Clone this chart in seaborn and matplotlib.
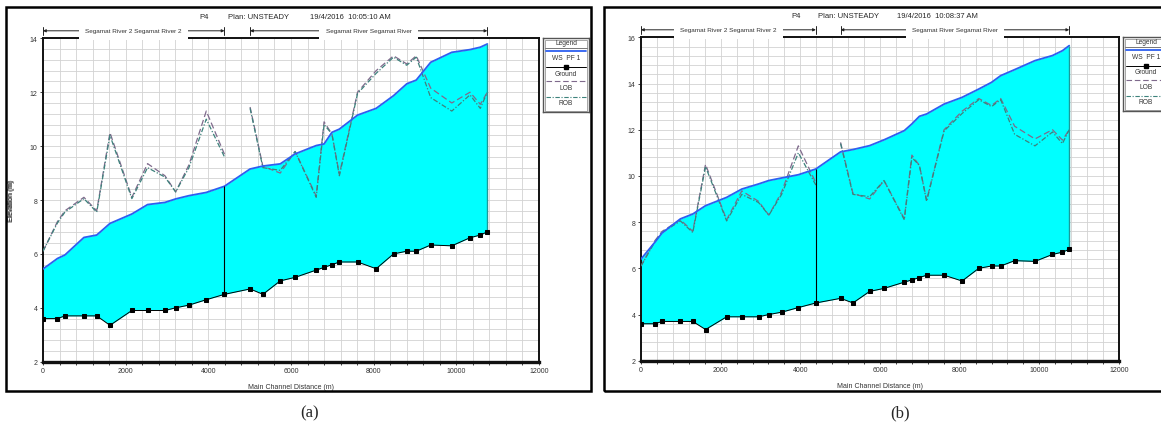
import numpy as np
import pandas as pd
import matplotlib
matplotlib.use("Agg")
import matplotlib.pyplot as plt
import seaborn as sns
from matplotlib.ticker import MultipleLocator
from matplotlib.patches import Rectangle

# stations along main channel (m)
station = [0, 350, 530, 990, 1300, 1620, 2150, 2530, 2950, 3210, 3530, 3950, 4390,
           5010, 5320, 5740, 6100, 6610, 6800, 6990, 7170, 7610, 8060, 8480, 8800,
           9030, 9380, 9890, 10330, 10580, 10750]
reach = ["Segamat River 2"] * 13 + ["Segamat River"] * 18

ground = [3.6, 3.6, 3.7, 3.7, 3.7, 3.35, 3.9, 3.9, 3.9, 4.0, 4.1, 4.3, 4.5,
          4.7, 4.5, 5.0, 5.13, 5.4, 5.5, 5.6, 5.7, 5.7, 5.45, 6.0, 6.1,
          6.1, 6.33, 6.3, 6.6, 6.7, 6.82]
lob = [6.1, 7.2, 7.6, 8.1, 7.6, 10.5, 8.1, 9.35, 8.9, 8.3, 9.3, 11.3, 9.7,
       11.45, 9.25, 9.0, 9.8, 8.15, 10.9, 10.45, 8.95, 12.0, 12.8, 13.35, 13.05,
       13.35, 12.15, 11.6, 12.0, 11.55, 12.0]
rob = [6.1, 7.15, 7.55, 8.05, 7.55, 10.4, 8.05, 9.2, 8.85, 8.3, 9.2, 11.0, 9.6,
       11.4, 9.2, 9.1, 9.8, 8.1, 10.8, 10.45, 8.9, 11.95, 12.7, 13.3, 13.0,
       13.3, 11.8, 11.3, 11.9, 11.4, 12.0]

# water surface, two runs
ws_a = [5.44, 5.83, 5.96, 6.61, 6.70, 7.13, 7.48, 7.83, 7.91, 8.04, 8.16, 8.28, 8.51,
        9.15, 9.26, 9.34, 9.71, 10.02, 10.08, 10.51, 10.63, 11.15, 11.40, 11.87, 12.31,
        12.45, 13.11, 13.48, 13.58, 13.67, 13.79]
ws_b = [6.40, 7.13, 7.53, 8.14, 8.35, 8.71, 9.07, 9.43, 9.65, 9.80, 9.91, 10.05, 10.30,
        11.04, 11.14, 11.31, 11.56, 11.96, 12.25, 12.58, 12.68, 13.11, 13.40, 13.76, 14.05,
        14.34, 14.60, 14.99, 15.21, 15.42, 15.64]

run_times = ["19/4/2016  10:05:10 AM", "19/4/2016  10:08:37 AM"]
y_tops = [14, 16]
captions = ["(a)", "(b)"]
legend_labels = ["WS  PF 1", "Ground", "LOB", "ROB"]

sns.set_style("white")
plt.rcParams["font.family"] = ["Liberation Sans", "DejaVu Sans"]

W, H = 1161, 427
fig = plt.figure(figsize=(W / 100, H / 100), dpi=100)

WS_COL = "#2d5ff0"
FILL_COL = "#00ffff"
LOB_COL = "#7f6a8c"
ROB_COL = "#3d827c"
TXT_COL = "#333333"


def px_rect(x0, y0, x1, y1):
    return [x0 / W, (H - y1) / H, (x1 - x0) / W, (y1 - y0) / H]


def draw_panel(ax_box, leg_box, frame_box, cap_x, ws, ytop, run_time, caption):
    df = pd.DataFrame({"station": station, "reach": reach, "ground": ground,
                       "ws": ws, "lob": lob, "rob": rob})
    ax = fig.add_axes(px_rect(*ax_box))
    ax.set_axisbelow(True)

    ax.fill_between(df["station"], df["ground"], df["ws"], color=FILL_COL, lw=0, zorder=1)
    sns.lineplot(data=df, x="station", y="lob", units="reach", estimator=None, ax=ax,
                 color=LOB_COL, lw=0.9, linestyle=(0, (5, 2.5)), zorder=3, legend=False)
    sns.lineplot(data=df, x="station", y="rob", units="reach", estimator=None, ax=ax,
                 color=ROB_COL, lw=0.9, linestyle=(0, (4, 1.5, 1, 1.5)), zorder=3, legend=False)
    sns.lineplot(data=df, x="station", y="ws", ax=ax, color=WS_COL, lw=1.3, zorder=4,
                 legend=False)
    sns.lineplot(data=df, x="station", y="ground", ax=ax, color="black", lw=0.7,
                 marker="s", markersize=2.4, markeredgecolor="black", zorder=5, legend=False)

    # junction line and downstream edge
    r2 = df[df["reach"] == "Segamat River 2"]
    j = r2.index[-1]
    ax.vlines(df["station"][j], df["ground"][j], df["ws"][j], color="black", lw=0.8, zorder=4)
    last = df.index[-1]
    ax.vlines(df["station"][last], df["ground"][last], df["ws"][last], color="#1a9a9a",
              lw=1.0, zorder=4)

    ax.set_xlim(0, 12000)
    ax.set_ylim(2, ytop)
    ax.set_xticks(np.arange(0, 12001, 2000))
    ax.set_yticks(np.arange(2, ytop + 0.1, 2))
    ax.xaxis.set_minor_locator(MultipleLocator(400))
    ax.yaxis.set_minor_locator(MultipleLocator(0.4))
    ax.grid(which="both", color="#d2d2d2", lw=0.6)
    ax.tick_params(which="both", direction="out", length=2, width=0.6, pad=2,
                   labelsize=5, labelcolor=TXT_COL, color="#222222",
                   bottom=True, left=True)
    ax.tick_params(axis="y", which="minor", length=0)
    for side in ["top", "right", "left"]:
        ax.spines[side].set_linewidth(1.4)
        ax.spines[side].set_color("#111111")
    ax.spines["bottom"].set_linewidth(2.4)
    ax.spines["bottom"].set_color("#111111")

    ax.set_xlabel("Main Channel Distance (m)", fontsize=5, color=TXT_COL)
    ax.set_ylabel("Elevation (m)", fontsize=5, color=TXT_COL)
    axw = ax_box[2] - ax_box[0]
    axh = ax_box[3] - ax_box[1]
    ax.xaxis.set_label_coords(0.5, -21 / axh)
    ax.yaxis.set_label_coords(-(ax_box[0] - 15) / axw, 0.5)

    # title row
    ty = 1 + 22 / axh
    ax.text(0.325, ty, "P4", transform=ax.transAxes, ha="center", va="center", fontsize=5.5)
    ax.text(0.435, ty, "Plan: UNSTEADY", transform=ax.transAxes, ha="center", va="center",
            fontsize=5.5)
    ax.text(0.62, ty, run_time, transform=ax.transAxes, ha="center", va="center", fontsize=5.5)

    # reach extents
    tr = ax.get_xaxis_transform()
    ry = 1 + 7.5 / axh
    for name, grp in df.groupby("reach", sort=False):
        a, b = grp["station"].min(), grp["station"].max()
        ax.annotate("", xy=(a, ry), xytext=(b, ry), xycoords=tr, textcoords=tr,
                    arrowprops=dict(arrowstyle="<|-|>", lw=0.7, color="#222222",
                                    mutation_scale=4, shrinkA=0, shrinkB=0))
        for s in (a, b):
            ax.plot([s, s], [ry - 0.012, ry + 0.012], transform=tr, color="#222222",
                    lw=0.7, clip_on=False)
        ax.text((a + b) / 2, ry, name + " " + name, transform=tr, ha="center", va="center",
                fontsize=4.6, color=TXT_COL,
                bbox=dict(facecolor="white", edgecolor="none", pad=4.5))

    # legend box
    lg = fig.add_axes(px_rect(*leg_box))
    lg.set_xlim(0, 1)
    lg.set_ylim(74, 0)
    lg.set_xticks([])
    lg.set_yticks([])
    for sp in lg.spines.values():
        sp.set_color("#555555")
        sp.set_linewidth(1.0)
    lg.add_patch(Rectangle((0.04, 1.5), 0.92, 71, fill=False, ec="#999999", lw=0.6))
    lg.text(0.5, 4.8, "Legend", ha="center", va="center", fontsize=4.8, color=TXT_COL)
    lg.plot([0.04, 0.96], [9.5, 9.5], color="#777777", lw=0.7)
    lg.plot([0.06, 0.94], [13, 13], color=WS_COL, lw=1.3)
    lg.plot([0.06, 0.94], [29, 29], color="black", lw=0.7)
    lg.plot([0.5], [29], marker="s", color="black", markersize=2.2)
    lg.plot([0.06, 0.94], [43, 43], color=LOB_COL, lw=0.8, linestyle=(0, (5, 2.5)))
    lg.plot([0.06, 0.94], [59, 59], color=ROB_COL, lw=0.8, linestyle=(0, (4, 1.5, 1, 1.5)))
    for lab, yy in zip(legend_labels, [19.5, 35, 50, 65]):
        lg.text(0.5, yy, lab, ha="center", va="center", fontsize=4.8, color=TXT_COL)

    # panel frame
    fx0, fy0, fx1, fy1 = frame_box
    fig.patches.append(Rectangle((fx0 / W, (H - fy1) / H), (fx1 - fx0) / W, (fy1 - fy0) / H,
                                 transform=fig.transFigure, fill=False, ec="black", lw=1.8))
    fig.text(cap_x / W, (H - 413) / H, caption, ha="center", va="center", fontsize=12,
             family="Liberation Serif")


draw_panel((43, 39.3, 539, 362.7), (543, 39, 589, 113), (6, 8, 591, 392), 310,
           ws_a, y_tops[0], run_times[0], captions[0])
draw_panel((641, 38.3, 1119, 361.7), (1123, 38, 1169, 112), (604, 8, 1172, 392), 900,
           ws_b, y_tops[1], run_times[1], captions[1])

fig.savefig("out.png", dpi=100)
